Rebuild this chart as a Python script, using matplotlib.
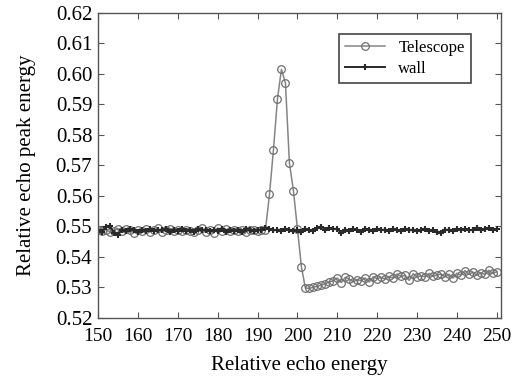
import numpy as np
import matplotlib.pyplot as plt

plt.rcParams['font.family'] = ['Liberation Serif', 'DejaVu Serif']

x = np.arange(150, 251)

# Telescope series, 150..250
telescope = [
    0.5488, 0.5484, 0.5490, 0.5482, 0.5486, 0.5493, 0.5484, 0.5491, 0.5487, 0.5480,
    0.5489, 0.5486, 0.5492, 0.5483, 0.5488, 0.5494, 0.5481, 0.5487, 0.5493, 0.5485,
    0.5489, 0.5484, 0.5490, 0.5486, 0.5482, 0.5488, 0.5495, 0.5483, 0.5487, 0.5479,
    0.5495, 0.5486, 0.5491, 0.5484, 0.5488, 0.5485, 0.5490, 0.5483, 0.5487, 0.5489,
    0.5484, 0.5488, 0.5490,
    0.5605, 0.5752, 0.5918, 0.6015, 0.5970, 0.5708, 0.5617, 0.5493, 0.5368, 0.5298,
    0.5297, 0.5301, 0.5304, 0.5308, 0.5312, 0.5318, 0.5322, 0.5331, 0.5316, 0.5333,
    0.5327, 0.5319, 0.5326, 0.5322, 0.5331, 0.5318, 0.5335, 0.5329, 0.5333, 0.5327,
    0.5336, 0.5330, 0.5344, 0.5336, 0.5340, 0.5323, 0.5345, 0.5334, 0.5338, 0.5335,
    0.5346, 0.5337, 0.5341, 0.5344, 0.5335, 0.5343, 0.5331, 0.5347, 0.5340, 0.5355,
    0.5343, 0.5350, 0.5340, 0.5348, 0.5343, 0.5356, 0.5346, 0.5352,
]

# wall series, 150..250
wall = [
    0.5488, 0.5483, 0.5497, 0.5503, 0.5478, 0.5473, 0.5490, 0.5485, 0.5492, 0.5487,
    0.5481, 0.5490, 0.5486, 0.5492, 0.5484, 0.5489, 0.5487, 0.5493, 0.5482, 0.5490,
    0.5486, 0.5491, 0.5485, 0.5489, 0.5483, 0.5492, 0.5487, 0.5490, 0.5484, 0.5489,
    0.5486, 0.5493, 0.5483, 0.5490, 0.5485, 0.5488, 0.5482, 0.5491, 0.5487, 0.5484,
    0.5490, 0.5488, 0.5496, 0.5491, 0.5487, 0.5490, 0.5485, 0.5492, 0.5488, 0.5486,
    0.5490, 0.5481, 0.5492, 0.5488, 0.5486, 0.5494, 0.5499, 0.5490, 0.5494, 0.5491,
    0.5493, 0.5477, 0.5490, 0.5486, 0.5491, 0.5488, 0.5481, 0.5493, 0.5490, 0.5486,
    0.5491, 0.5488, 0.5490, 0.5486, 0.5491, 0.5489, 0.5484, 0.5491, 0.5487, 0.5490,
    0.5485, 0.5489, 0.5492, 0.5486, 0.5489, 0.5483, 0.5480, 0.5488, 0.5490, 0.5486,
    0.5491, 0.5488, 0.5493, 0.5487, 0.5490, 0.5494, 0.5488, 0.5491, 0.5496, 0.5489,
    0.5492,
]

xticks = np.arange(150, 251, 10)
yticks = np.arange(0.52, 0.6201, 0.01)

fig = plt.figure(figsize=(5.18, 3.79), dpi=100)
ax = fig.add_axes([0.189, 0.161, 0.778, 0.805])

ax.plot(x, telescope, color='#858585', lw=1.1, marker='o', ms=5.5,
        mfc='none', mec='#707070', mew=0.9, label='Telescope')
ax.plot(x, wall, color='#2a2a2a', lw=1.4, marker='+', ms=5,
        mew=1.5, mec='#2a2a2a', label='wall')

ax.set_xlim(150, 251)
ax.set_ylim(0.52, 0.62)
ax.set_xticks(xticks)
ax.set_yticks(yticks)
ax.set_yticklabels(['%.2f' % v for v in yticks])
ax.tick_params(direction='in', top=True, right=True, length=4,
               color='#555555')
ax.tick_params(axis='x', labelsize=14, pad=7)
ax.tick_params(axis='y', labelsize=15, pad=4)
for s in ax.spines.values():
    s.set_color('#555555')
    s.set_linewidth(1.0)

ax.set_xlabel('Relative echo energy', fontsize=15, labelpad=8)
ax.set_ylabel('Relative echo peak energy', fontsize=15, labelpad=14)

leg = ax.legend(loc='upper right', bbox_to_anchor=(0.925, 0.93),
                borderaxespad=0, fontsize=12,
                fancybox=False, edgecolor='#444444', framealpha=1,
                handlelength=2.4, borderpad=0.35, labelspacing=0.3)
leg.get_frame().set_linewidth(1.2)

fig.savefig('out.png', dpi=100)
